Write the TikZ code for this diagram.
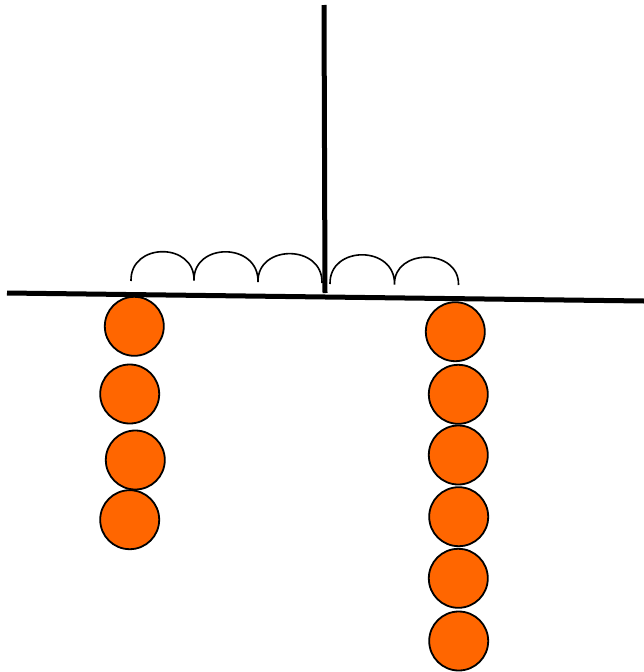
\documentclass[tikz,border=0pt]{standalone}
\definecolor{ball}{HTML}{FF6600}
\begin{document}
\begin{tikzpicture}[x=1pt,y=-1pt,
  bead/.style={circle,draw=black,line width=1.8pt,fill=ball,minimum size=59pt,inner sep=0pt},
  bar/.style={line width=5pt},
  arch/.style={line width=1.6pt}]
\useasboundingbox (0,0) rectangle (644,672);
% vertical pole
\coordinate (vt) at (324,5);
\coordinate (vb) at (325,293);
\draw[bar] (vt) -- (vb);
% horizontal bar
\coordinate (hl) at (7,293);
\coordinate (hr) at (644,301);
\draw[bar] (hl) -- (hr);
% arches
\coordinate (a0) at (131,281);
\coordinate (a1) at (194,280.5);
\coordinate (a2) at (258,282);
\coordinate (a3) at (322,283);
\coordinate (a4) at (330,284);
\coordinate (a5) at (394.5,284.5);
\coordinate (a6) at (458.5,285);
\draw[arch] (a0) .. controls (130,242) and (195,242) .. (a1)
            .. controls (193,242) and (259,242) .. (a2)
            .. controls (257,244) and (323,244) .. (a3);
\draw[arch] (a4) .. controls (329,245) and (395.5,245) .. (a5)
            .. controls (393.5,248) and (459.5,248) .. (a6);
% left beads
\node[bead] (l1) at (134.3,326.3) {};
\node[bead] (l2) at (129.7,394) {};
\node[bead] (l3) at (135.3,460) {};
\node[bead] (l4) at (129.7,519.7) {};
% right beads
\node[bead] (r1) at (455.3,331.7) {};
\node[bead] (r2) at (458.3,394.3) {};
\node[bead] (r3) at (458.3,455) {};
\node[bead] (r4) at (458.7,516.7) {};
\node[bead] (r5) at (458.3,578.3) {};
\node[bead] (r6) at (458.7,641) {};
\end{tikzpicture}
\end{document}
